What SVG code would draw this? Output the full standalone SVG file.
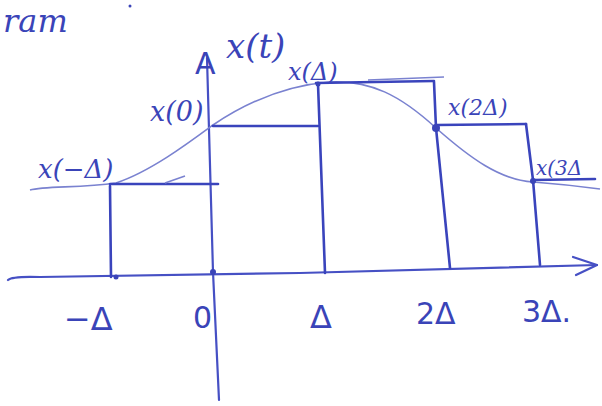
<svg xmlns="http://www.w3.org/2000/svg" width="602" height="406" viewBox="0 0 602 406">
<style>
.ax{stroke:#4650c4;stroke-width:2.2;fill:none;stroke-linecap:round;stroke-linejoin:round}
.st{stroke:#3a44bc;stroke-width:2.6;fill:none;stroke-linecap:round}
.cv{stroke:#7a82d0;stroke-width:1.6;fill:none}
.lb{fill:#3a44b8;font-family:"DejaVu Serif","Liberation Serif",serif;font-style:italic}
.tk{fill:#3a44b8;font-family:"DejaVu Sans","Liberation Sans",sans-serif}
.dot{fill:#3a44b8}
</style>
<rect width="602" height="406" fill="#fff"/>
<text class="lb" x="3" y="32" font-size="32">ram</text>
<circle class="dot" cx="130" cy="6" r="1.5"/>
<g id="axes">
<path class="ax" d="M8 280 Q12 276 40 277 L300 273 L597 265"/>
<path class="ax" d="M573 257 L597 265 L576 275"/>
<path class="ax" d="M207 58 L213 272 L219 400"/>
<text class="tk" x="195" y="74" font-size="30">A</text>
</g>
<g id="curve">
<path class="cv" d="M30 190 C45 186 80 188 116 183 C150 172 190 142 213 125 C250 100 290 85 330 82 C370 80 400 95 436 128 C470 158 500 180 533 182 C560 184 585 187 600 189"/>
</g>
<g id="connectors">
<path class="st" d="M110 186 L111 277"/>
<path class="st" d="M110 184 L218 184"/>
<path class="cv" d="M165 183 L185 176"/>
<path class="st" d="M213 126 L318 126"/>
<path class="st" d="M318 84 L325 273"/>
<path class="st" d="M316 83 L434 81"/>
<path class="cv" d="M368 80 L444 77"/>
<path class="st" d="M434 82 L436 128 L450 268"/>
<path class="st" d="M436 125 L526 124"/>
<path class="st" d="M526 124 L533 180 L540 265"/>
<path class="st" d="M533 180 L595 179"/>
</g>
<g id="dots">
<circle class="dot" cx="436" cy="128" r="4"/>
<circle class="dot" cx="533" cy="181" r="3"/>
<circle class="dot" cx="213" cy="272" r="3"/>
<circle class="dot" cx="116" cy="277" r="2.5"/>
<circle class="dot" cx="318" cy="84" r="2.5"/>
</g>
<g id="labels">
<text class="lb" x="226" y="58" font-size="34">x(t)</text>
<text class="lb" x="150" y="121" font-size="27">x(0)</text>
<text class="lb" x="38" y="178" font-size="26">x(−Δ)</text>
<text class="lb" x="288" y="80" font-size="24">x(Δ)</text>
<text class="lb" x="448" y="115" font-size="22">x(2Δ)</text>
<text class="lb" x="536" y="175" font-size="20">x(3Δ</text>
</g>
<g id="ticks">
<text class="tk" x="64" y="330" font-size="32">−Δ</text>
<text class="tk" x="193" y="328" font-size="30">0</text>
<text class="tk" x="310" y="328" font-size="32">Δ</text>
<text class="tk" x="416" y="324" font-size="30">2Δ</text>
<text class="tk" x="522" y="322" font-size="30">3Δ.</text>
</g>
</svg>
